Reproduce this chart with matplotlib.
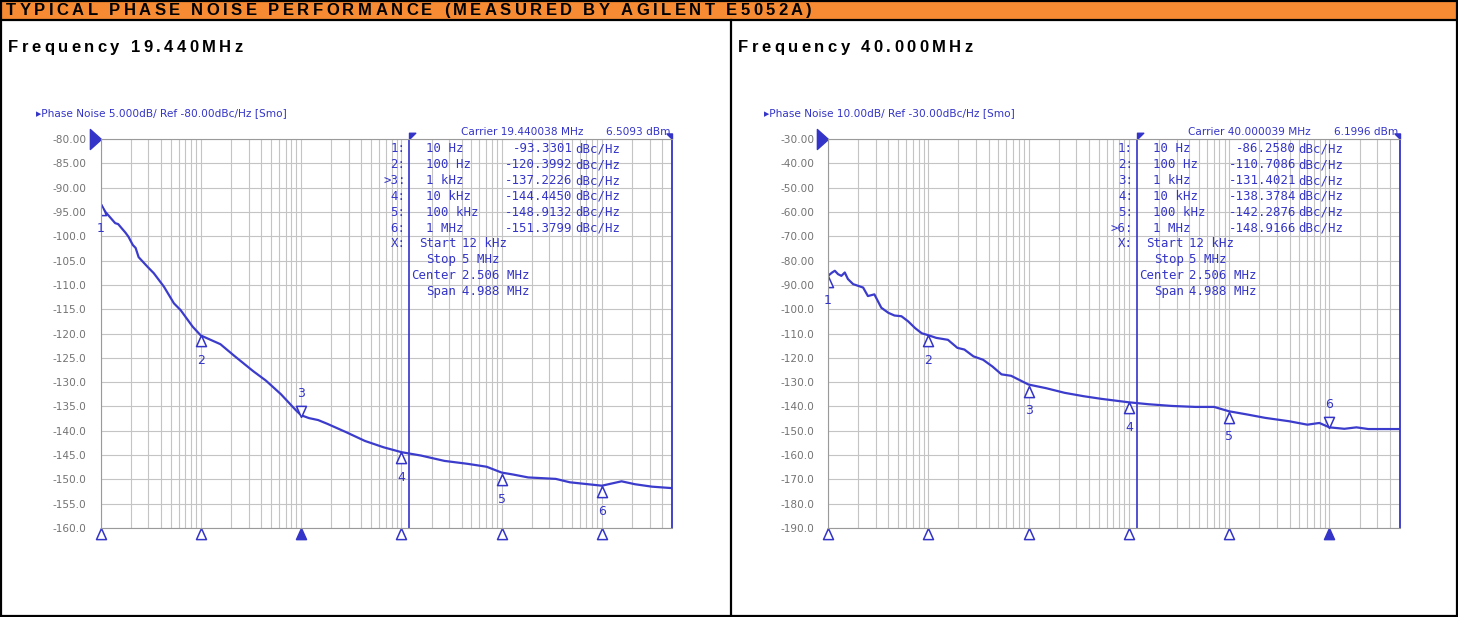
import numpy as np
import matplotlib.pyplot as plt
from matplotlib.patches import Rectangle
from matplotlib.lines import Line2D
from matplotlib.path import Path
from matplotlib.ticker import LogLocator, NullFormatter, FuncFormatter

W, H = 1458, 617

mk_freq = [10, 100, 1e3, 1e4, 1e5, 1e6]
mk_names = ['10 Hz', '100 Hz', '1 kHz', '10 kHz', '100 kHz', '1 MHz']

# 19.440 MHz
freq_a = [10, 11.2, 14, 15, 17.8, 19, 21, 22.4, 24, 29.5, 34, 43, 54, 63, 83,
          100, 157, 216, 331, 447, 631, 890, 1000, 1200, 1480, 1840, 2820,
          4340, 6650, 10e3, 15.7e3, 26.9e3, 45.7e3, 70.8e3, 100e3, 130e3,
          184e3, 347e3, 479e3, 1e6, 1.57e6, 2.14e6, 3.16e6, 5e6]
noise_a = [-93.3, -95.0, -97.3, -97.5, -99.3, -100.1, -101.8, -102.4, -104.3,
           -106.3, -107.6, -110.4, -113.8, -115.2, -118.6, -120.4, -122.2,
           -124.6, -127.7, -129.7, -132.5, -135.8, -136.8, -137.4, -137.8,
           -138.6, -140.3, -142.1, -143.4, -144.4, -145.1, -146.2, -146.8,
           -147.4, -148.6, -149.0, -149.6, -149.9, -150.6, -151.3, -150.4,
           -151.0, -151.5, -151.8]
mk_a = [-93.3301, -120.3992, -137.2226, -144.4450, -148.9132, -151.3799]

# 40.000 MHz
freq_b = [10, 11, 11.7, 12.6, 13.6, 14.7, 15.8, 17.8, 20, 22.4, 25, 29, 34,
          40, 46, 54, 63, 74, 86, 100, 120, 157, 195, 229, 282, 352, 437, 537,
          670, 1000, 1500, 2290, 3550, 5370, 10e3, 15.8e3, 26.9e3, 46.2e3,
          70.8e3, 100e3, 151e3, 229e3, 398e3, 603e3, 794e3, 1e6, 1.41e6,
          1.86e6, 2.45e6, 5e6]
noise_b = [-86.3, -84.9, -84.2, -85.6, -86.3, -84.9, -87.6, -89.7, -90.4,
           -91.1, -94.6, -93.9, -99.4, -101.5, -102.6, -102.9, -105.0, -107.8,
           -109.9, -110.7, -111.8, -112.6, -115.9, -116.6, -119.4, -120.8,
           -123.6, -126.8, -127.4, -131.0, -132.5, -134.4, -135.8, -136.9,
           -138.3, -139.1, -139.8, -140.2, -140.2, -142.0, -143.3, -144.7,
           -146.1, -147.5, -146.8, -148.6, -149.2, -148.6, -149.3, -149.3]
mk_b = [-86.2580, -110.7086, -131.4021, -138.3784, -142.2876, -148.9166]

BLUE = '#3434c8'
TRACE = '#3c3ccc'
GRID = '#c4c4c4'
GRAY = '#737373'


def fx(x):
    return x / W


def fy(y):
    return 1 - y / H


def spaced(fig, x0, y, s, width, size):
    # letter-spaced bold heading, stretched to the given pixel width
    r = fig.canvas.get_renderer()
    ts, ws = [], []
    for ch in s:
        t = fig.text(0, fy(y), ch, fontsize=size, fontweight='bold',
                     family='Liberation Sans', va='center', ha='left')
        w = size * 0.36 if ch == ' ' else t.get_window_extent(r).width
        ts.append(t)
        ws.append(w)
    gap = (width - sum(ws)) / (len(s) - 1)
    x = x0
    for t, w in zip(ts, ws):
        t.set_x(fx(x))
        x += w + gap


tri_up = Path([(0, 0), (-0.45, -1), (0.45, -1), (0, 0)])
tri_dn = Path([(0, 0), (-0.45, 1), (0.45, 1), (0, 0)])
ref_tri = Path([(0, 0), (-1, 0.9), (-1, -0.9), (0, 0)])
start_tri = Path([(0, 0), (0, 1), (1, 1), (0, 0)])
stop_tri = Path([(0, 0), (0, 1), (-1, 1), (0, 0)])

fig = plt.figure(figsize=(W / 100, H / 100), dpi=100)

# page frame
fig.add_artist(Rectangle((0, fy(19.5)), 1, 19.5 / H, transform=fig.transFigure,
                         facecolor='#f68b33', edgecolor='none'))
for seg in [((1, 1), (0, H)), ((W - 1, W - 1), (0, H)), ((0, W), (1, 1)),
            ((0, W), (H - 1, H - 1)), ((0, W), (19.5, 19.5)),
            ((731, 731), (19.5, H))]:
    fig.add_artist(Line2D([fx(v) for v in seg[0]], [fy(v) for v in seg[1]],
                          color='black', lw=1.6, transform=fig.transFigure))

spaced(fig, 6, 10.5, 'TYPICAL PHASE NOISE PERFORMANCE (MEASURED BY AGILENT E5052A)', 806, 12)
spaced(fig, 8, 47.5, 'Frequency 19.440MHz', 235, 12)
spaced(fig, 738, 47.5, 'Frequency 40.000MHz', 235, 12)

panels = [
    dict(left=100.5, freq=freq_a, noise=noise_a, mk=mk_a, top=-80, step=5,
         title='\u25b8Phase Noise 5.000dB/ Ref -80.00dBc/Hz [Smo]',
         carrier='Carrier 19.440038 MHz', power='6.5093 dBm', active=2,
         vr=472, ur=475),
    dict(left=828, freq=freq_b, noise=noise_b, mk=mk_b, top=-30, step=10,
         title='\u25b8Phase Noise 10.00dB/ Ref -30.00dBc/Hz [Smo]',
         carrier='Carrier 40.000039 MHz', power='6.1996 dBm', active=5,
         vr=468, ur=470),
]

top_px, bot_px = 139, 528
for p in panels:
    L = p['left']
    ax = fig.add_axes([fx(L), fy(bot_px), 571.5 / W, (bot_px - top_px) / H])
    bottom = p['top'] - 16 * p['step']
    ax.set_xscale('log')
    ax.set_xlim(10, 5e6)
    ax.set_ylim(bottom, p['top'])
    ax.set_yticks(np.arange(bottom, p['top'] + 1, p['step']))
    ax.yaxis.set_major_formatter(FuncFormatter(
        lambda v, pos: f'{v:.2f}' if abs(v) < 100 else f'{v:.1f}'))
    ax.xaxis.set_minor_locator(LogLocator(subs=np.arange(2, 10)))
    ax.xaxis.set_minor_formatter(NullFormatter())
    ax.tick_params(axis='x', which='both', length=0, labelbottom=False)
    ax.tick_params(axis='y', length=0, pad=10, labelsize=7.6, labelcolor=GRAY)
    ax.grid(True, which='both', axis='x', color=GRID, lw=0.8)
    ax.grid(True, which='major', axis='y', color=GRID, lw=0.8)
    for s in ['left', 'top', 'bottom']:
        ax.spines[s].set_color('#9a9a9a')
    ax.spines['right'].set_color(BLUE)
    ax.spines['right'].set_linewidth(1.3)
    ax.axvline(12e3, color=BLUE, lw=1.2)

    ax.plot(p['freq'], p['noise'], color=TRACE, lw=1.6)

    # markers on the trace
    for i, (f, v) in enumerate(zip(mk_freq, p['mk'])):
        if i == p['active']:
            ax.plot([f], [v], marker=tri_dn, ms=16, mfc='white', mec=BLUE, mew=1.1)
            ax.annotate(str(i + 1), (f, v), xytext=(0, 24), textcoords='offset pixels',
                        ha='center', va='center', color=BLUE, fontsize=9)
        else:
            ax.plot([f], [v], marker=tri_up, ms=16, mfc='white', mec=BLUE, mew=1.1)
            ax.annotate(str(i + 1), (f, v), xytext=(0, -25), textcoords='offset pixels',
                        ha='center', va='center', color=BLUE, fontsize=9)
        # stimulus markers under the axis
        ax.plot([f], [bottom], marker=tri_up, ms=16, clip_on=False,
                mfc=BLUE if i == p['active'] else 'white', mec=BLUE, mew=1.1)

    ax.plot([10], [p['top']], marker=ref_tri, ms=16, color=BLUE, clip_on=False)
    ax.plot([12e3], [p['top']], marker=start_tri, ms=9, color=BLUE, clip_on=False)
    ax.plot([5e6], [p['top']], marker=stop_tri, ms=8, color=BLUE, clip_on=False)

    # annotation texts
    fig.text(fx(L - 64), fy(113), p['title'], fontsize=7.6, color=BLUE,
             va='center', ha='left')
    fig.text(fx(L + 483), fy(132), p['carrier'], fontsize=7.6, color=BLUE,
             va='center', ha='right')
    fig.text(fx(L + 570), fy(132), p['power'], fontsize=7.6, color=BLUE,
             va='center', ha='right')

    mono = dict(family='DejaVu Sans Mono', fontsize=8.9, color=BLUE, va='center')
    for i, (name, v) in enumerate(zip(mk_names, p['mk'])):
        y = 149 + 15.8 * i
        tag = ('>' if i == p['active'] else '') + f'{i + 1}:'
        fig.text(fx(L + 305), fy(y), tag, ha='right', **mono)
        fig.text(fx(L + 325), fy(y), name, ha='left', **mono)
        fig.text(fx(L + p['vr']), fy(y), f'{v:.4f}', ha='right', **mono)
        fig.text(fx(L + p['ur']), fy(y), 'dBc/Hz', ha='left', **mono)
    fig.text(fx(L + 305), fy(149 + 15.8 * 6), 'X:', ha='right', **mono)
    for j, (lab, val) in enumerate([('Start', '12 kHz'), ('Stop', '5 MHz'),
                                    ('Center', '2.506 MHz'), ('Span', '4.988 MHz')]):
        y = 149 + 15.8 * (6 + j)
        fig.text(fx(L + 356), fy(y), lab, ha='right', **mono)
        fig.text(fx(L + 361), fy(y), val, ha='left', **mono)

fig.savefig('out.png', dpi=100)
